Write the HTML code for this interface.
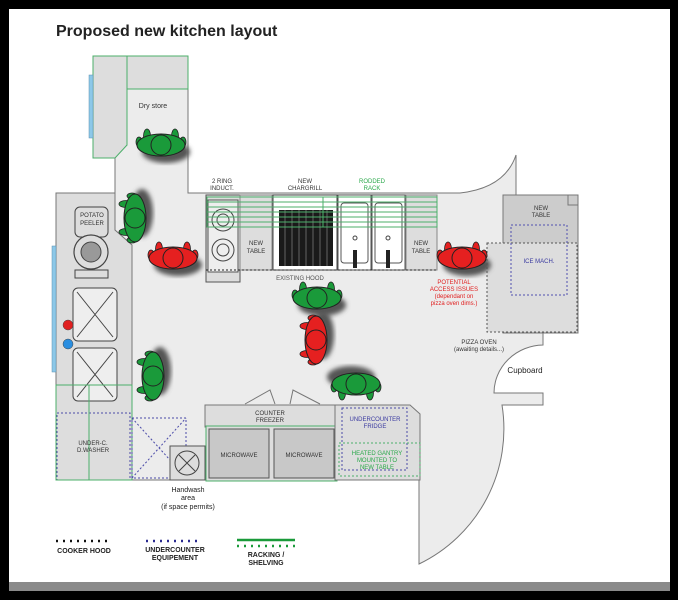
<!DOCTYPE html>
<html><head><meta charset="utf-8"><style>
html,body{margin:0;padding:0;background:#000;}
svg{display:block;font-family:"Liberation Sans",sans-serif;}
</style></head><body>
<svg width="678" height="600" viewBox="0 0 678 600" xmlns="http://www.w3.org/2000/svg">
<defs>
<filter id="bl"><feGaussianBlur stdDeviation="2.5"/></filter>
<g id="chef">
 <ellipse cx="5" cy="7" rx="24" ry="11" fill="#555" filter="url(#bl)"/>
 <ellipse cx="-14" cy="-9" rx="3.5" ry="7" stroke="#222" stroke-width="0.8"/>
 <ellipse cx="14" cy="-9" rx="3.5" ry="7" stroke="#222" stroke-width="0.8"/>
 <ellipse cx="-22" cy="-3" rx="3" ry="5" stroke="#222" stroke-width="0.8"/>
 <ellipse cx="22" cy="-3" rx="3" ry="5" stroke="#222" stroke-width="0.8"/>
 <ellipse cx="0" cy="0" rx="24" ry="11" stroke="#222" stroke-width="1"/>
 <circle cx="0" cy="0" r="10" stroke="#222" stroke-width="1"/>
</g>
</defs>
<rect x="0" y="0" width="678" height="600" fill="#000"/>
<rect x="9" y="9" width="661" height="573" fill="#fff"/>
<rect x="9" y="582" width="661" height="9" fill="#8a8a8a"/>
<text x="56" y="36" font-size="16" font-weight="bold" fill="#222">Proposed new kitchen layout</text>

<!-- floor -->
<path d="M115,145 L115,193 L56,193 L56,480 L419,480 L419,564 A150,150 0 0 0 502,405 L543,405 L543,393 L494,393 A50,48 0 0 1 543,345 L543,333 L578,333 L578,195 L516,195 L516,155 Q505,188 460,193 L188,193 L188,89 L127,89 L127,145 Z" fill="#ececec" stroke="#777" stroke-width="1"/>
<text x="525" y="373" font-size="8" fill="#222" text-anchor="middle">Cupboard</text>

<!-- dry store -->
<path d="M93,56 L127,56 L127,145 L115,158 L93,158 Z" fill="#ddd" stroke="#4caf6a" stroke-width="1"/>
<rect x="127" y="56" width="61" height="33" fill="#ddd" stroke="#4caf6a" stroke-width="1"/>
<rect x="89" y="75" width="4" height="63" fill="#8cc8e8" stroke="#5a8fb0" stroke-width="0.5"/>
<text x="153" y="108" font-size="7" fill="#333" text-anchor="middle">Dry store</text>

<!-- left counter -->
<path d="M56,193 L115,193 L115,230 L132,245 L132,480 L56,480 Z" fill="#ddd" stroke="#777" stroke-width="1"/>
<rect x="52" y="246" width="4" height="126" fill="#8cc8e8" stroke="#5a8fb0" stroke-width="0.5"/>
<rect x="75" y="207" width="33" height="30" rx="5" fill="#ddd" stroke="#444"/>
<text x="92" y="217" font-size="6" fill="#333" text-anchor="middle">POTATO</text>
<text x="92" y="225" font-size="6" fill="#333" text-anchor="middle">PEELER</text>
<circle cx="91" cy="252" r="17" fill="#ddd" stroke="#444" stroke-width="1.2"/>
<circle cx="91" cy="252" r="10" fill="#999" stroke="#444"/>
<rect x="75" y="270" width="33" height="8" fill="#ddd" stroke="#444"/>
<rect x="73" y="288" width="44" height="53" rx="5" fill="#eee" stroke="#444"/>
<path d="M77,292 L113,337 M113,292 L77,337" stroke="#444"/>
<rect x="73" y="348" width="44" height="53" rx="5" fill="#eee" stroke="#444"/>
<path d="M77,352 L113,397 M113,352 L77,397" stroke="#444"/>
<circle cx="68" cy="325" r="5" fill="#e02020" stroke="#444" stroke-width="0.5"/>
<circle cx="68" cy="344" r="5" fill="#2a8ee0" stroke="#444" stroke-width="0.5"/>
<rect x="57" y="413" width="73" height="67" fill="none" stroke="#4a4aa8" stroke-dasharray="2,2"/>
<path d="M57,385 L89,385 L89,480" fill="none" stroke="#4caf6a"/>
<rect x="56" y="385" width="76" height="95" fill="none" stroke="#4caf6a"/>
<text x="93" y="445" font-size="6" fill="#333" text-anchor="middle">UNDER-C.</text>
<text x="93" y="452" font-size="6" fill="#333" text-anchor="middle">D.WASHER</text>
<rect x="132" y="418" width="54" height="60" fill="none" stroke="#4a4aa8" stroke-dasharray="2,2"/>
<path d="M132,478 L186,418 M132,418 L170,460" stroke="#4a4aa8" stroke-dasharray="2,2"/>
<rect x="170" y="446" width="35" height="34" fill="#ddd" stroke="#555"/>
<circle cx="187" cy="463" r="12" fill="none" stroke="#444"/>
<path d="M179,455 L195,471 M195,455 L179,471" stroke="#444"/>
<text x="188" y="492" font-size="7" fill="#222" text-anchor="middle">Handwash</text>
<text x="188" y="500" font-size="7" fill="#222" text-anchor="middle">area</text>
<text x="188" y="509" font-size="7" fill="#222" text-anchor="middle">(if space permits)</text>

<!-- top counter -->
<rect x="206" y="195" width="34" height="87" fill="#ddd" stroke="#555"/>
<rect x="208" y="200" width="30" height="72" fill="#eee" stroke="#555"/>
<circle cx="223" cy="220" r="11" fill="none" stroke="#444"/><circle cx="223" cy="220" r="6" fill="none" stroke="#444"/>
<circle cx="223" cy="250" r="11" fill="none" stroke="#444"/><circle cx="223" cy="250" r="6" fill="none" stroke="#444"/>
<rect x="240" y="195" width="32" height="75" fill="#ddd" stroke="#888"/>
<text x="256" y="245" font-size="6" fill="#333" text-anchor="middle">NEW</text>
<text x="256" y="253" font-size="6" fill="#333" text-anchor="middle">TABLE</text>
<rect x="273" y="195" width="64" height="75" fill="#fff" stroke="#444"/>
<rect x="279" y="210" width="54" height="56" fill="#1a1a1a"/>
<path d="M285,210 V266 M292,210 V266 M299,210 V266 M306,210 V266 M313,210 V266 M320,210 V266 M327,210 V266" stroke="#777" stroke-width="0.8"/>
<rect x="338" y="195" width="33" height="75" fill="#fff" stroke="#555"/>
<rect x="372" y="195" width="33" height="75" fill="#fff" stroke="#555"/>
<rect x="341" y="203" width="27" height="60" rx="3" fill="#fff" stroke="#555"/>
<rect x="375" y="203" width="27" height="60" rx="3" fill="#fff" stroke="#555"/>
<circle cx="355" cy="238" r="2" fill="none" stroke="#444"/><circle cx="388" cy="238" r="2" fill="none" stroke="#444"/>
<rect x="353" y="250" width="4" height="18" fill="#222"/><rect x="386" y="250" width="4" height="18" fill="#222"/>
<rect x="406" y="195" width="31" height="75" fill="#ddd" stroke="#888"/>
<text x="421" y="245" font-size="6" fill="#333" text-anchor="middle">NEW</text>
<text x="421" y="253" font-size="6" fill="#333" text-anchor="middle">TABLE</text>
<path d="M206,270 H437" stroke="#222" stroke-dasharray="2,2"/>
<rect x="207" y="197" width="230" height="30" fill="none" stroke="#4caf6a"/>
<path d="M207,202 H437 M207,207 H437 M207,212 H437 M207,217 H437 M207,222 H437 M323,197 V227" stroke="#4caf6a" stroke-width="1"/>
<text x="222" y="183" font-size="6" fill="#333" text-anchor="middle">2 RING</text>
<text x="222" y="190" font-size="6" fill="#333" text-anchor="middle">INDUCT.</text>
<text x="305" y="183" font-size="6" fill="#333" text-anchor="middle">NEW</text>
<text x="305" y="190" font-size="6" fill="#333" text-anchor="middle">CHARGRILL</text>
<text x="372" y="183" font-size="6" fill="#2aa84a" text-anchor="middle">RODDED</text>
<text x="372" y="190" font-size="6" fill="#2aa84a" text-anchor="middle">RACK</text>
<text x="300" y="280" font-size="6" fill="#555" text-anchor="middle">EXISTING HOOD</text>

<!-- right -->
<rect x="503" y="195" width="75" height="138" fill="#ccc" stroke="#777"/>
<rect x="568" y="195" width="10" height="10" fill="#ccc" stroke="#777"/>
<rect x="487" y="243" width="90" height="89" fill="#ddd" stroke="#555" stroke-dasharray="2,2"/>
<rect x="511" y="225" width="56" height="70" fill="none" stroke="#5050b0" stroke-dasharray="2,2"/>
<text x="541" y="210" font-size="6" fill="#333" text-anchor="middle">NEW</text>
<text x="541" y="217" font-size="6" fill="#333" text-anchor="middle">TABLE</text>
<text x="539" y="263" font-size="6" fill="#3a3aa0" text-anchor="middle">ICE MACH.</text>
<g font-size="6" fill="#e02020" text-anchor="middle">
<text x="454" y="284">POTENTIAL</text><text x="454" y="291">ACCESS ISSUES</text>
<text x="454" y="298">(dependant on</text><text x="454" y="305">pizza oven dims.)</text></g>
<text x="479" y="344" font-size="6" fill="#333" text-anchor="middle">PIZZA OVEN</text>
<text x="479" y="351" font-size="6" fill="#333" text-anchor="middle">(awaiting details...)</text>

<!-- bottom counter -->
<path d="M245,404 L270,390 L275,404 M290,404 L293,390 L320,404" fill="none" stroke="#777"/>
<rect x="205" y="405" width="130" height="22" fill="#ddd" stroke="#777"/>
<text x="270" y="415" font-size="6" fill="#333" text-anchor="middle">COUNTER</text>
<text x="270" y="422" font-size="6" fill="#333" text-anchor="middle">FREEZER</text>
<rect x="206" y="426" width="131" height="55" fill="#ddd" stroke="#4caf6a"/>
<rect x="209" y="429" width="60" height="49" fill="#c8c8c8" stroke="#555"/>
<rect x="274" y="429" width="60" height="49" fill="#c8c8c8" stroke="#555"/>
<text x="239" y="457" font-size="6" fill="#333" text-anchor="middle">MICROWAVE</text>
<text x="304" y="457" font-size="6" fill="#333" text-anchor="middle">MICROWAVE</text>
<path d="M335,405 L410,405 L420,414 L420,480 L335,480 Z" fill="#ddd" stroke="#777"/>
<rect x="342" y="408" width="65" height="62" fill="none" stroke="#4a4aa8" stroke-dasharray="2,2"/>
<rect x="339" y="443" width="81" height="33" fill="none" stroke="#4caf6a" stroke-dasharray="2,2"/>
<text x="375" y="421" font-size="6" fill="#3a3aa0" text-anchor="middle">UNDERCOUNTER</text>
<text x="375" y="428" font-size="6" fill="#3a3aa0" text-anchor="middle">FRIDGE</text>
<g font-size="6" fill="#2aa84a" text-anchor="middle"><text x="377" y="455">HEATED GANTRY</text><text x="377" y="462">MOUNTED TO</text><text x="377" y="469">NEW TABLE</text></g>

<!-- chefs -->
<use href="#chef" transform="translate(161,145)" fill="#1a9a3a"/>
<use href="#chef" transform="translate(135,218) rotate(-90)" fill="#1a9a3a"/>
<use href="#chef" transform="translate(173,258)" fill="#e52020"/>
<use href="#chef" transform="translate(153,376) rotate(-90)" fill="#1a9a3a"/>
<use href="#chef" transform="translate(317,298)" fill="#1a9a3a"/>
<use href="#chef" transform="translate(316,340) rotate(-90)" fill="#e52020"/>
<use href="#chef" transform="translate(356,384) rotate(180)" fill="#1a9a3a"/>
<use href="#chef" transform="translate(462,258)" fill="#e52020"/>

<!-- legend -->
<path d="M56,541 H112" stroke="#111" stroke-width="2.5" stroke-dasharray="2,5"/>
<text x="84" y="553" font-size="7" font-weight="bold" fill="#222" text-anchor="middle">COOKER HOOD</text>
<path d="M146,541 H202" stroke="#2a2a90" stroke-width="2.5" stroke-dasharray="2,5"/>
<text x="175" y="552" font-size="7" font-weight="bold" fill="#222" text-anchor="middle">UNDERCOUNTER</text>
<text x="175" y="560" font-size="7" font-weight="bold" fill="#222" text-anchor="middle">EQUIPEMENT</text>
<path d="M237,540 H295" stroke="#1a9a3a" stroke-width="2.5"/>
<path d="M237,546 H295" stroke="#1a9a3a" stroke-width="2.5" stroke-dasharray="2,5"/>
<text x="266" y="557" font-size="7" font-weight="bold" fill="#222" text-anchor="middle">RACKING /</text>
<text x="266" y="565" font-size="7" font-weight="bold" fill="#222" text-anchor="middle">SHELVING</text>
</svg>
</body></html>
